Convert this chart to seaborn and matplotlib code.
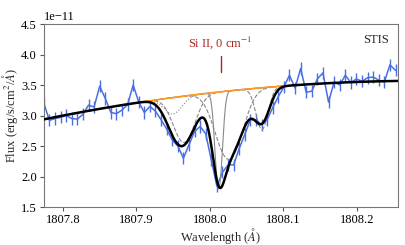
import matplotlib
matplotlib.use("Agg")
import matplotlib.pyplot as plt
import numpy as np
import seaborn as sns

# observed STIS spectrum (flux in 1e-11 erg/s/cm2/A)
wave_start = 1807.774
wave_step = 0.0076
flux_obs = [3.20, 2.92, 2.95, 2.97, 3.00, 2.95, 2.94, 3.02, 3.17, 3.14,
            3.48, 3.28, 3.05, 3.03, 3.09, 3.18, 3.50, 3.22, 3.05, 3.15,
            3.07, 2.93, 2.78, 2.60, 2.50, 2.30, 2.52, 2.74, 2.82, 2.70,
            2.27, 1.84, 2.07, 2.19, 2.19, 2.46, 2.69, 2.93, 2.93, 2.85,
            2.93, 3.13, 3.31, 3.47, 3.66, 3.45, 3.77, 3.38, 3.40, 3.60,
            3.70, 3.22, 3.55, 3.50, 3.66, 3.54, 3.60, 3.56, 3.62, 3.63,
            3.58, 3.55, 3.83, 3.74]
flux_err = 0.10

# continuum anchor points
cont_wave = [1807.776, 1807.884, 1807.916, 1808.007, 1808.082, 1808.109, 1808.256]
cont_flux = [2.93, 3.19, 3.25, 3.38, 3.455, 3.48, 3.575]

# absorption components
comp_center = [1807.950, 1807.965, 1808.012, 1808.026, 1808.071]
comp_tau = [0.085, 0.26, 0.63, 0.40, 0.22]
comp_sigma = [0.012, 0.014, 0.0045, 0.017, 0.008]
comp_style = [":", "--", "-", "--", "--"]
lsf_sigma = 0.0065

xlim = (1807.774, 1808.256)
line_label = "Si II, 0 cm$^{-1}$"
line_wave = 1808.015

sns.set_style("ticks")
plt.rcParams["font.family"] = ["Liberation Serif", "DejaVu Serif"]
plt.rcParams["mathtext.fontset"] = "stix"
plt.rcParams["font.size"] = 9

wave_obs = wave_start + wave_step * np.arange(len(flux_obs))
flux_obs = np.array(flux_obs) * 1e-11

coef = np.polyfit(np.array(cont_wave) - 1808.0, cont_flux, 2)
wave_fine = np.linspace(xlim[0], xlim[1], 3000)
cont = np.polyval(coef, wave_fine - 1808.0) * 1e-11

taus = [t * np.exp(-0.5 * ((wave_fine - c) / s) ** 2)
        for c, t, s in zip(comp_center, comp_tau, comp_sigma)]
trans = np.exp(-np.sum(taus, axis=0))
dw = wave_fine[1] - wave_fine[0]
kx = np.arange(-5 * lsf_sigma, 5 * lsf_sigma + dw, dw)
kernel = np.exp(-0.5 * (kx / lsf_sigma) ** 2)
kernel /= kernel.sum()
trans_conv = np.convolve(trans - 1, kernel, mode="same") + 1
model = cont * trans_conv

fig, ax = plt.subplots(figsize=(4.06, 2.45), dpi=100)
fig.subplots_adjust(left=0.108, right=0.980, top=0.902, bottom=0.155)

ax.errorbar(wave_obs, flux_obs, yerr=flux_err * 1e-11, color="#4a6fe3",
            lw=1.1, elinewidth=1.0, capsize=0, zorder=1)

for tau, ls in zip(taus, comp_style):
    sns.lineplot(x=wave_fine, y=cont * np.exp(-tau), ax=ax, color="#888888",
                 lw=0.8, ls=ls, sort=False, estimator=None, zorder=2)

seg = (wave_fine > 1807.91) & (wave_fine < 1808.10)
sns.lineplot(x=wave_fine[seg], y=cont[seg], ax=ax, color="#ff9a1a", lw=1.2,
             sort=False, estimator=None, zorder=3)
sns.lineplot(x=wave_fine, y=model, ax=ax, color="black", lw=1.8,
             sort=False, estimator=None, zorder=4)

ax.plot([line_wave, line_wave], [3.71e-11, 3.98e-11], color="#b22222", lw=1.0)
ax.text(line_wave - 0.0015, 4.2e-11, line_label, color="#b22222",
        ha="center", va="center", fontsize=9)
ax.text(0.975, 0.91, "STIS", transform=ax.transAxes, ha="right",
        va="center", fontsize=9)

ax.set_xlim(*xlim)
ax.set_ylim(1.5e-11, 4.5e-11)
ax.set_xticks([1807.8, 1807.9, 1808.0, 1808.1, 1808.2])
ax.set_xticklabels(["1807.8", "1807.9", "1808.0", "1808.1", "1808.2"])
ax.set_xlabel(r"Wavelength ($\AA$)", labelpad=0)
ax.set_ylabel(r"Flux (erg/s/cm$^2$/$\AA$)", labelpad=0.5)
for sp in ax.spines.values():
    sp.set_color("#777777")
    sp.set_linewidth(0.8)
ax.tick_params(colors="#555555", labelcolor="black", width=0.8, length=3, pad=2)

fig.savefig("out.png", dpi=100)
